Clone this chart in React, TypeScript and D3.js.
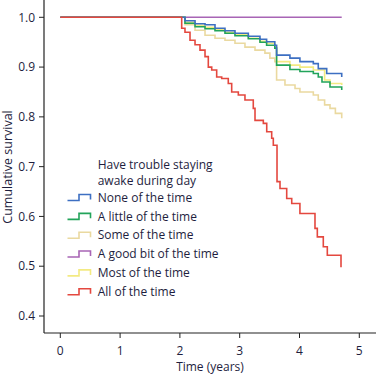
import React from "react";
import * as d3 from "d3";

const xTicks = [0, 1, 2, 3, 4, 5];
const yTicks = [0.4, 0.5, 0.6, 0.7, 0.8, 0.9, 1.0];

const legendTitle = ["Have trouble staying", "awake during day"];
const seriesNames = [
  "None of the time",
  "A little of the time",
  "Some of the time",
  "A good bit of the time",
  "Most of the time",
  "All of the time",
];
const seriesColors = ["#3d6fc2", "#22a45a", "#ead9a0", "#a865b5", "#f3ea82", "#e4483f"];

const noneT = [0, 2.0, 2.085, 2.253, 2.42, 2.587, 2.754, 2.921, 3.144, 3.339, 3.45, 3.587, 3.617, 3.84, 4.007, 4.231, 4.314, 4.455, 4.706];
const noneS = [1.0, 1.0, 0.993, 0.987, 0.985, 0.978, 0.973, 0.968, 0.962, 0.956, 0.951, 0.944, 0.924, 0.918, 0.911, 0.907, 0.897, 0.887, 0.880];

const littleT = [0, 2.0, 2.085, 2.253, 2.42, 2.587, 2.754, 2.921, 3.144, 3.339, 3.45, 3.587, 3.617, 3.84, 4.007, 4.231, 4.314, 4.376, 4.51, 4.706];
const littleS = [1.0, 1.0, 0.988, 0.981, 0.977, 0.973, 0.968, 0.963, 0.957, 0.950, 0.944, 0.938, 0.904, 0.895, 0.891, 0.887, 0.880, 0.870, 0.860, 0.854];

const someT = [0, 2.0, 2.085, 2.253, 2.42, 2.587, 2.754, 2.921, 3.088, 3.256, 3.422, 3.505, 3.587, 3.617, 3.757, 3.925, 4.007, 4.231, 4.314, 4.42, 4.51, 4.6, 4.706];
const someS = [1.0, 1.0, 0.985, 0.974, 0.964, 0.958, 0.954, 0.948, 0.940, 0.934, 0.928, 0.918, 0.911, 0.874, 0.864, 0.857, 0.850, 0.844, 0.834, 0.824, 0.817, 0.807, 0.797];

const goodBitT = [0, 4.706];
const goodBitS = [1.0, 1.0];

const mostT = [0, 2.0, 2.085, 2.253, 2.42, 2.587, 2.754, 2.921, 3.144, 3.339, 3.45, 3.587, 3.617, 3.84, 4.007, 4.231, 4.42, 4.51, 4.706];
const mostS = [1.0, 1.0, 0.990, 0.984, 0.980, 0.975, 0.970, 0.965, 0.958, 0.952, 0.948, 0.942, 0.911, 0.904, 0.900, 0.894, 0.874, 0.867, 0.864];

const allT = [0, 2.0, 2.03, 2.085, 2.169, 2.253, 2.336, 2.42, 2.475, 2.532, 2.615, 2.699, 2.809, 2.866, 2.977, 3.088, 3.227, 3.256, 3.395, 3.452, 3.535, 3.562, 3.624, 3.674, 3.786, 3.87, 4.007, 4.204, 4.259, 4.298, 4.398, 4.465, 4.694];
const allS = [1.0, 1.0, 0.978, 0.970, 0.954, 0.945, 0.934, 0.921, 0.900, 0.894, 0.880, 0.877, 0.867, 0.850, 0.844, 0.834, 0.817, 0.793, 0.787, 0.770, 0.757, 0.743, 0.670, 0.656, 0.636, 0.626, 0.606, 0.606, 0.576, 0.559, 0.539, 0.522, 0.498];

const seriesT = [noneT, littleT, someT, goodBitT, mostT, allT];
const seriesS = [noneS, littleS, someS, goodBitS, mostS, allS];
const drawOrder = [3, 2, 4, 1, 0, 5];

const W = 376;
const H = 383;
const FONT = "'Open Sans', 'Noto Sans', sans-serif";
const TEXT = "#1e1e3e";
const FS = 12;

export default function App() {
  const x = d3.scaleLinear().domain([0, 5]).range([60.3, 359.3]);
  const y = d3.scaleLinear().domain([0.4, 1.0]).range([316, 17.3]);
  const axisX = 44;
  const axisY = 333;

  const line = d3
    .line<[number, number]>()
    .x((d) => x(d[0]))
    .y((d) => y(d[1]))
    .curve(d3.curveStepAfter);

  const legendX = 97.7;
  const legendY0 = 197.5;
  const legendStep = 18.85;

  return (
    <svg
      width={W}
      height={H}
      style={{ position: "absolute", left: 0, top: 0, background: "#fff" }}
      fontFamily={FONT}
    >
      <line x1={axisX} y1={0} x2={axisX} y2={axisY} stroke="#222" strokeWidth={1.2} />
      <line x1={axisX} y1={axisY} x2={W} y2={axisY} stroke="#222" strokeWidth={1.2} />
      {yTicks.map((t) => (
        <g key={"y" + t}>
          <line x1={axisX - 5} x2={axisX} y1={y(t)} y2={y(t)} stroke="#222" strokeWidth={1} />
          <text x={35} y={y(t)} dy="0.35em" textAnchor="end" fontSize={FS} fill={TEXT}>
            {t.toFixed(1)}
          </text>
        </g>
      ))}
      {xTicks.map((t) => (
        <g key={"x" + t}>
          <line x1={x(t)} x2={x(t)} y1={axisY} y2={axisY + 5} stroke="#222" strokeWidth={1} />
          <text x={x(t)} y={350.5} dy="0.35em" textAnchor="middle" fontSize={FS} fill={TEXT}>
            {t}
          </text>
        </g>
      ))}
      <text x={210} y={367} dy="0.35em" textAnchor="middle" fontSize={FS} fill={TEXT}>
        Time (years)
      </text>
      <text
        transform={`translate(8,167) rotate(-90)`}
        dy="0.35em"
        textAnchor="middle"
        fontSize={12.5}
        fill={TEXT}
      >
        Cumulative survival
      </text>

      {drawOrder.map((i) => {
        const pts: [number, number][] = seriesT[i].map((t, k) => [t, seriesS[i][k]]);
        return (
          <path
            key={"s" + i}
            d={line(pts) || ""}
            fill="none"
            stroke={seriesColors[i]}
            strokeWidth={1.6}
          />
        );
      })}

      <text x={legendX} y={165.2} dy="0.35em" fontSize={FS} fill={TEXT}>
        {legendTitle[0]}
      </text>
      <text x={legendX} y={181.2} dy="0.35em" fontSize={FS} fill={TEXT}>
        {legendTitle[1]}
      </text>
      {seriesNames.map((name, i) => {
        const cy = legendY0 + i * legendStep;
        return (
          <g key={"l" + i}>
            <path
              d={`M67.5,${cy + 3} H79 V${cy - 3} H90.5 V${cy + 2}`}
              fill="none"
              stroke={seriesColors[i]}
              strokeWidth={1.6}
            />
            <text x={legendX} y={cy} dy="0.35em" fontSize={FS} fill={TEXT}>
              {name}
            </text>
          </g>
        );
      })}
    </svg>
  );
}
